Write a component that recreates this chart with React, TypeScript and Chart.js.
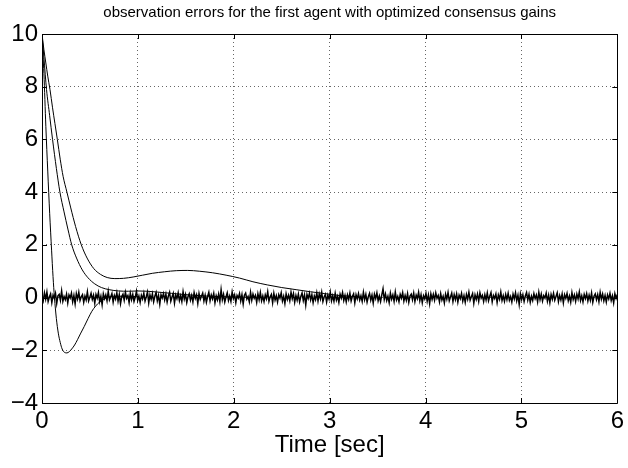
import React, { useEffect, useRef } from "react";
import { Chart, registerables } from "chart.js";

Chart.register(...registerables);

const titleText = "observation errors for the first agent with optimized consensus gains";
const xLabel = "Time [sec]";
const xTicks = [0, 1, 2, 3, 4, 5, 6];
const yTicks = [-4, -2, 0, 2, 4, 6, 8, 10];

// upper curve (slow convergence with overshoot)
const tA = [0, 0.02, 0.04, 0.06, 0.083, 0.11, 0.135, 0.16, 0.19, 0.22, 0.26, 0.3, 0.35, 0.41, 0.47, 0.54, 0.61, 0.68, 0.76, 0.85, 0.95, 1.05, 1.15, 1.28, 1.4, 1.52, 1.64, 1.78, 1.92, 2.06, 2.2, 2.35, 2.5, 2.65, 2.8, 2.95, 3.1, 3.3];
const yA = [10, 9.4, 8.9, 8.4, 7.9, 7.2, 6.6, 6.0, 5.25, 4.6, 4.0, 3.4, 2.7, 2.0, 1.5, 1.1, 0.88, 0.76, 0.72, 0.73, 0.78, 0.85, 0.92, 0.98, 1.02, 1.03, 1.0, 0.94, 0.85, 0.74, 0.6, 0.48, 0.38, 0.3, 0.22, 0.15, 0.08, 0.03];

// middle curve
const tB = [0, 0.02, 0.047, 0.08, 0.11, 0.15, 0.187, 0.23, 0.27, 0.31, 0.36, 0.42, 0.48, 0.55, 0.62, 0.7, 0.8, 0.9, 1.0, 1.1, 1.2, 1.35, 1.5, 1.7, 2.0, 2.3];
const yB = [10, 9.1, 7.9, 6.9, 6.0, 4.9, 4.0, 3.25, 2.6, 2.0, 1.5, 1.05, 0.75, 0.52, 0.38, 0.3, 0.25, 0.24, 0.25, 0.24, 0.21, 0.16, 0.11, 0.06, 0.02, 0];

// lower curve (negative dip)
const tC = [0, 0.01, 0.02, 0.04, 0.06, 0.08, 0.1, 0.115, 0.13, 0.15, 0.17, 0.19, 0.21, 0.235, 0.26, 0.285, 0.31, 0.34, 0.37, 0.4, 0.44, 0.48, 0.52, 0.56, 0.6, 0.65, 0.7, 0.8, 0.9, 1.0];
const yC = [10, 9.2, 8.5, 6.5, 4.8, 3.2, 1.8, 0.8, 0, -0.8, -1.35, -1.7, -1.95, -2.08, -2.1, -2.05, -1.95, -1.8, -1.6, -1.38, -1.1, -0.8, -0.52, -0.32, -0.17, -0.05, 0.03, 0.05, 0.05, 0.03];

// measurement noise observed over the whole interval 0..6 s
const noiseEnd = 6;
const noise = [
  .05,-.12,.18,-.06,.21,-.15,.02,.14,-.19,.09,-.03,.16,-.22,.07,.12,-.1,.25,-.14,.04,-.08,
  .13,-.2,.1,-.01,.17,-.16,.08,-.24,.15,-.05,.2,-.11,.03,.11,-.18,.06,-.09,.22,-.13,.01,
  .16,-.07,.09,-.21,.12,-.02,.19,-.15,.05,-.27,.14,-.04,.1,-.12,.23,-.09,.02,.15,-.17,.08,
  -.06,.18,-.14,.11,-.23,.04,.13,-.1,.2,-.03,.07,-.19,.16,-.08,.12,-.15,.01,.24,-.11,.06,
  -.18,.09,-.05,.17,-.13,.03,.21,-.2,.1,-.07,.14,-.16,.05,.19,-.12,.08,-.25,.11,-.02,.15,
  -.09,.13,-.17,.06,.2,-.14,.02,.16,-.21,.1,-.04,.18,-.11,.07,-.15,.22,-.06,.12,-.19,.03,
  .14,-.1,.08,-.16,.19,-.03,.11,-.22,.15,-.07,.05,.17,-.13,.09,-.18,.04,.2,-.12,.1,-.05,
  .16,-.2,.07,-.09,.13,-.15,.3,-.08,.12,-.17,.02,.18,-.11,.06,-.14,.21,-.04,.1,-.19,.08,
  -.02,.15,-.13,.11,-.24,.09,.17,-.06,.04,-.16,.2,-.1,.13,-.03,.08,-.18,.14,-.08,.19,-.12,
  .06,-.15,.1,-.05,.22,-.14,.03,.12,-.2,.16,-.09,.07,-.17,.11,-.02,.18,-.13,.05,-.22,.14,
  -.07,.09,-.12,.2,-.04,.15,-.18,.08,-.1,.13,-.16,.04,.17,-.11,.1,-.28,.12,-.03,.16,-.09,
  .11,-.19,.06,-.08,.18,-.13,.14,-.05,.2,-.15,.02,.12,-.17,.09,-.06,.21,-.12,.07,-.14,.16,
  -.1,.05,-.18,.13,-.02,.19,-.11,.08,-.16,.1,-.07,.17,-.13,.04,.14,-.2,.11,-.05,.15,-.09,
  .07,-.14,.2,-.08,.12,-.17,.03,.16,-.1,.09,-.21,.13,-.04,.18,-.12,.06,-.15,.1,.33,-.07,
  .14,-.11,.05,-.19,.17,-.06,.1,-.14,.21,-.09,.04,-.16,.12,-.02,.19,-.13,.08,-.1,.15,-.18,
  .06,.13,-.08,.17,-.15,.09,-.04,.2,-.12,.11,-.19,.07,-.05,.16,-.14,.1,-.23,.14,-.07,.12,
  -.1,.18,-.03,.08,-.16,.15,-.09,.05,-.2,.13,-.06,.19,-.12,.02,.17,-.15,.11,-.08,.14,-.17,
  .09,-.04,.16,-.13,.07,-.18,.12,-.06,.2,-.1,.03,.15,-.21,.1,-.07,.13,-.14,.18,-.02,.08,
  -.15,.11,-.09,.17,-.12,.05,.19,-.16,.08,-.03,.14,-.19,.1,-.06,.21,-.11,.07,-.14,.12,-.08,
  .16,-.1,.04,-.17,.13,-.05,.18,-.12,.09,-.26,.14,-.07,.11,-.15,.06,.19,-.09,.12,-.18,.05,
  -.11,.15,-.04,.1,-.16,.2,-.08,.13,-.13,.07,-.02,.17,-.14,.09,-.19,.12,-.06,.16,-.1,.04,
  .18,-.15,.08,-.09,.14,-.2,.11,-.03,.16,-.12,.06,-.17,.19,-.07,.1,-.14,.13,-.05,.21,-.11,
  .07,-.16,.12,-.04,.15,-.13,.09,-.1,.17,-.18,.05,.14,-.08,.11,-.15,.2,-.06,.13,-.12,.08,
  -.17,.1,-.05,.16,-.11,.07,-.2,.15,-.03,.12
];

const FONT = "'Liberation Sans', Arial, Helvetica, sans-serif";
const GRID = "rgba(0,0,0,0.6)";

const zip = (t: number[], y: number[]) => t.map((x, i) => ({ x, y: y[i] }));
const fmt = (v: number) => String(v).replace("-", "\u2212");

const framePlugin = {
  id: "frame",
  afterDraw(chart: any) {
    const { ctx, chartArea } = chart;
    const { left, right, top, bottom } = chartArea;
    const xs = chart.scales.x;
    const ys = chart.scales.y;
    ctx.save();
    ctx.strokeStyle = "#000";
    ctx.lineWidth = 1;
    ctx.beginPath();
    ctx.rect(Math.round(left) + 0.5, Math.round(top) + 0.5, Math.round(right - left), Math.round(bottom - top));
    ctx.stroke();
    const tl = 5;
    ctx.beginPath();
    xTicks.forEach((v) => {
      const px = Math.round(xs.getPixelForValue(v)) + 0.5;
      ctx.moveTo(px, bottom);
      ctx.lineTo(px, bottom - tl);
      ctx.moveTo(px, top);
      ctx.lineTo(px, top + tl);
    });
    yTicks.forEach((v) => {
      const py = Math.round(ys.getPixelForValue(v)) + 0.5;
      ctx.moveTo(left, py);
      ctx.lineTo(left + tl, py);
      ctx.moveTo(right, py);
      ctx.lineTo(right - tl, py);
    });
    ctx.stroke();
    ctx.fillStyle = "#000";
    ctx.textAlign = "center";
    ctx.textBaseline = "middle";
    ctx.font = `15px ${FONT}`;
    ctx.fillText(titleText, (left + right) / 2, 13);
    ctx.font = `24px ${FONT}`;
    ctx.fillText(xLabel, (left + right) / 2, 445);
    ctx.restore();
  },
};

export default function App() {
  const ref = useRef<HTMLCanvasElement>(null);
  useEffect(() => {
    document.body.style.margin = "0";
    const lineStyle = {
      borderColor: "#000",
      borderWidth: 1,
      pointRadius: 0,
      fill: false,
    };
    const chart = new Chart(ref.current!, {
      type: "line",
      data: {
        datasets: [
          {
            ...lineStyle,
            borderWidth: 1.5,
            data: noise.map((y, i) => ({ x: (i * noiseEnd) / (noise.length - 1), y })),
            tension: 0,
          },
          { ...lineStyle, data: zip(tA, yA), cubicInterpolationMode: "monotone" },
          { ...lineStyle, data: zip(tB, yB), cubicInterpolationMode: "monotone" },
          { ...lineStyle, data: zip(tC, yC), cubicInterpolationMode: "monotone" },
        ],
      },
      options: {
        animation: false,
        responsive: false,
        maintainAspectRatio: false,
        layout: { padding: { left: 0, right: 7, top: 34, bottom: 0 } },
        plugins: { legend: { display: false }, tooltip: { enabled: false }, title: { display: false } },
        scales: {
          x: {
            type: "linear",
            min: 0,
            max: 6,
            afterFit: (s: any) => { s.height = 65; },
            afterBuildTicks: (s: any) => { s.ticks = xTicks.map((v) => ({ value: v })); },
            border: { display: false, dash: [1, 3] },
            grid: { color: GRID, drawTicks: false, lineWidth: 1 },
            ticks: { color: "#000", font: { family: FONT, size: 24 }, padding: 4, maxRotation: 0, callback: (v: any) => fmt(v) },
          },
          y: {
            type: "linear",
            min: -4,
            max: 10,
            afterFit: (s: any) => { s.width = 42; },
            afterBuildTicks: (s: any) => { s.ticks = yTicks.map((v) => ({ value: v })); },
            border: { display: false, dash: [1, 3] },
            grid: { color: GRID, drawTicks: false, lineWidth: 1 },
            ticks: { color: "#000", font: { family: FONT, size: 24 }, padding: 4, callback: (v: any) => fmt(v) },
          },
        },
      } as any,
      plugins: [framePlugin],
    });
    return () => chart.destroy();
  }, []);
  return (
    <div style={{ position: "fixed", left: 0, top: 0, width: 628, height: 468, background: "#fff" }}>
      <canvas ref={ref} width={628} height={468} style={{ display: "block" }} />
    </div>
  );
}
